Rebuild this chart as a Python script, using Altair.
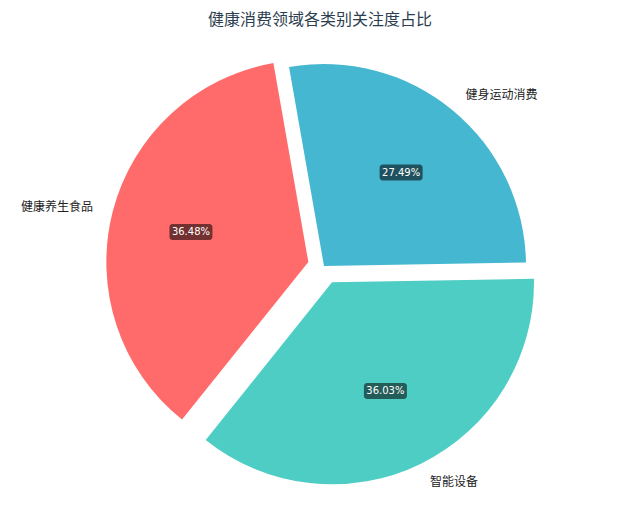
import altair as alt
import pandas as pd

# ---- data (counter-clockwise order starting just above 3 o'clock) ----
categories = ["健身运动消费", "健康养生食品", "智能设备"]
shares = [27.49, 36.48, 36.03]
pct_labels = ["27.49%", "36.48%", "36.03%"]
colors = ["#45B7D1", "#FF6B6B", "#4ECDC4"]
explode = [0.0, 0.08, 0.09]
title_text = "健康消费领域各类别关注度占比"

# ---- layout constants ----
PAD_TOP = 28
W, H = 624, 492 - PAD_TOP
CX, CY, R = 316, 258 - PAD_TOP, 202
START_DEG = 1.0
CJK = "Noto Sans CJK SC"

df = pd.DataFrame({
    "cat": categories,
    "share": shares,
    "label": pct_labels,
    "explode": explode,
    "order": list(range(len(categories))),
})

base = (
    alt.Chart(df)
    .transform_window(cum="sum(share)", sort=[alt.SortField("order")], frame=[None, 0])
    .transform_joinaggregate(total="sum(share)")
    .transform_calculate(a0=f"({START_DEG} + (datum.cum - datum.share) / datum.total * 360) * PI / 180")
    .transform_calculate(a1=f"({START_DEG} + datum.cum / datum.total * 360) * PI / 180")
    .transform_calculate(mid="(datum.a0 + datum.a1) / 2")
    .transform_calculate(cx=f"{CX} + datum.explode * {R} * cos(datum.mid)")
    .transform_calculate(cy=f"{CY} - datum.explode * {R} * sin(datum.mid)")
    .transform_calculate(t0="PI / 2 - datum.a1")
    .transform_calculate(t1="PI / 2 - datum.a0")
    .transform_calculate(lx=f"datum.cx + 1.1 * {R} * cos(datum.mid)")
    .transform_calculate(ly=f"datum.cy - 1.1 * {R} * sin(datum.mid)")
    .transform_calculate(px=f"datum.cx + 0.6 * {R} * cos(datum.mid)")
    .transform_calculate(py=f"datum.cy - 0.6 * {R} * sin(datum.mid)")
    .transform_calculate(bx0="datum.px - 21.5", bx1="datum.px + 21.5")
    .transform_calculate(by0="datum.py - 8", by1="datum.py + 8")
    .transform_calculate(side="cos(datum.mid) >= 0 ? 'right' : 'left'")
)

arcs = base.mark_arc(radius=R).encode(
    x=alt.X("cx:Q", scale=None),
    y=alt.Y("cy:Q", scale=None),
    theta=alt.Theta("t0:Q", scale=None, stack=False),
    theta2=alt.Theta2("t1:Q"),
    color=alt.Color("cat:N", scale=alt.Scale(domain=categories, range=colors), legend=None),
)

labels_right = base.transform_filter("datum.side == 'right'").mark_text(
    align="left", baseline="middle", font=CJK, fontSize=12, color="#222222"
).encode(
    x=alt.X("lx:Q", scale=None),
    y=alt.Y("ly:Q", scale=None),
    text="cat:N",
)

labels_left = base.transform_filter("datum.side == 'left'").mark_text(
    align="right", baseline="middle", font=CJK, fontSize=12, color="#222222"
).encode(
    x=alt.X("lx:Q", scale=None),
    y=alt.Y("ly:Q", scale=None),
    text="cat:N",
)

boxes = base.mark_rect(cornerRadius=3, color="#000000", opacity=0.55).encode(
    x=alt.X("bx0:Q", scale=None),
    x2="bx1:Q",
    y=alt.Y("by0:Q", scale=None),
    y2="by1:Q",
)

pct = base.mark_text(
    align="center", baseline="middle", font="DejaVu Sans", fontSize=10, color="#ffffff"
).encode(
    x=alt.X("px:Q", scale=None),
    y=alt.Y("py:Q", scale=None),
    text="label:N",
)

chart = (
    alt.layer(arcs, labels_right, labels_left, boxes, pct)
    .properties(
        width=W,
        height=H,
        autosize=alt.AutoSizeParams(type="none"),
        padding={"left": 0, "top": PAD_TOP, "right": 0, "bottom": 0},
        background="#ffffff",
        title=alt.TitleParams(
            text=title_text,
            font=CJK,
            fontSize=16,
            fontWeight="normal",
            color="#2c3e50",
            anchor="middle",
            offset=8,
        ),
    )
    .configure_view(stroke=None)
)

chart.save("out.html", embed_options={"renderer": "svg", "actions": False})
